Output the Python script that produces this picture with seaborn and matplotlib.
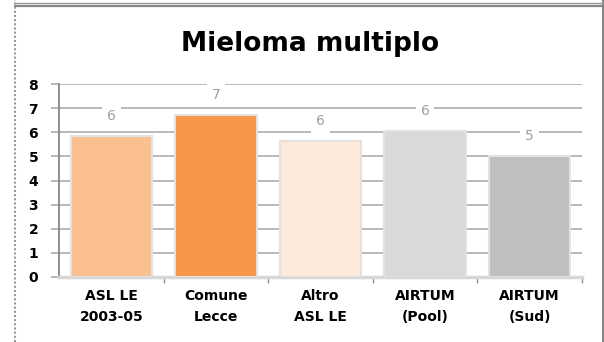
import matplotlib
matplotlib.use("Agg")
import matplotlib.pyplot as plt
from matplotlib.lines import Line2D
import seaborn as sns
import pandas as pd

categories = ["ASL LE\n2003-05", "Comune\nLecce", "Altro\nASL LE", "AIRTUM\n(Pool)", "AIRTUM\n(Sud)"]
values = [5.85, 6.72, 5.64, 6.07, 5.02]
bar_colors = ["#FAC08F", "#F79646", "#FDEADA", "#D9D9D9", "#BFBFBF"]
y_ticks = [0, 1, 2, 3, 4, 5, 6, 7, 8]
title = "Mieloma multiplo"

df = pd.DataFrame({"cat": categories, "val": values})

sns.set_style("white")
plt.rcParams["font.family"] = ["DejaVu Sans"]
plt.rcParams["text.color"] = "black"
plt.rcParams["xtick.labelcolor"] = "black"
plt.rcParams["ytick.labelcolor"] = "black"

fig = plt.figure(figsize=(6.04, 3.42), dpi=100)
ax = fig.add_axes([59 / 604, 1 - 277 / 342, (582 - 59) / 604, (277 - 84) / 342])

sns.barplot(data=df, x="cat", y="val", hue="cat", palette=bar_colors,
            saturation=1, legend=False, width=0.78, edgecolor="#e2e2e2",
            linewidth=1.5, ax=ax, zorder=3)

ax.set_ylim(0, 8)
ax.set_xlim(-0.5, len(categories) - 0.5)
ax.set_yticks(y_ticks)
ax.set_yticklabels([str(t) for t in y_ticks], fontweight="bold", fontsize=10)
ax.yaxis.grid(True, color="#b4b4b4", linewidth=1.3, zorder=0)
ax.set_axisbelow(True)
ax.tick_params(axis="y", length=6, width=1.3, color="#b4b4b4", pad=9, left=True)

# category boundaries as tick marks
ax.set_xticks([i + 0.5 for i in range(len(categories))], minor=True)
ax.tick_params(axis="x", which="minor", length=4, width=1, color="#909090", bottom=True)
ax.tick_params(axis="x", which="major", length=0, pad=9)
ax.set_xticks(range(len(categories)))
ax.set_xticklabels(categories, fontweight="bold", fontsize=10, linespacing=1.6)

ax.set_xlabel("")
ax.set_ylabel("")
for s in ["top", "right"]:
    ax.spines[s].set_visible(False)
ax.spines["left"].set_color("#888888")
ax.spines["left"].set_linewidth(1.3)
ax.spines["bottom"].set_color("#d6d6d6")
ax.spines["bottom"].set_linewidth(2.5)

for i, v in enumerate(values):
    ax.annotate(f"{v:.0f}", (i, v), xytext=(0, 14), textcoords="offset points",
                ha="center", va="center", fontsize=10, color="#a0a0a0",
                bbox=dict(boxstyle="square,pad=0.35", fc="white", ec="none"),
                zorder=4)

fig.text(310 / 604, 1 - 44 / 342, title, ha="center", va="center",
         fontsize=19, fontweight="bold")

# frame lines of the surrounding cell
fig.add_artist(Line2D([15 / 604, 15 / 604], [0, 1], color="#999999",
                      linewidth=1.5, linestyle=(0, (1, 1))))
fig.add_artist(Line2D([603 / 604, 603 / 604], [0, 1], color="#888888", linewidth=1.5))
fig.add_artist(Line2D([15 / 604, 1], [1 - 3 / 342, 1 - 3 / 342], color="#999999", linewidth=1))
fig.add_artist(Line2D([15 / 604, 1], [1 - 6 / 342, 1 - 6 / 342], color="#888888", linewidth=1.6))

fig.savefig("out.png", dpi=100)
